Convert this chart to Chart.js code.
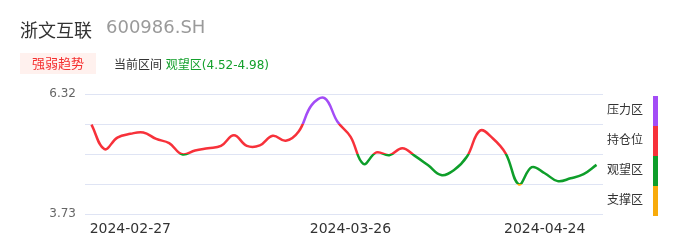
<!DOCTYPE html>
<html>
<head>
<meta charset="utf-8">
<script src="https://cdn.jsdelivr.net/npm/chart.js@4"></script>
<style>
  body { margin: 0; background: #fff; font-family: "DejaVu Sans", "Noto Sans CJK SC", sans-serif; }
  #wrap { position: relative; width: 686px; height: 247px; overflow: hidden; }
  #chart { position: absolute; left: 0; top: 0; }
  .name { position: absolute; left: 20px; top: 16px; font-size: 18px; color: #333; }
  .code { position: absolute; left: 106px; top: 16px; font-size: 18px; color: #9a9a9a; }
  .badge { position: absolute; left: 20px; top: 53px; width: 76px; height: 21px; line-height: 21px;
           text-align: center; background: #fff1ee; color: #f52f2f; font-size: 13px; }
  .range { position: absolute; left: 114px; top: 55px; font-size: 12px; color: #333; }
  .range span { color: #14a02c; }
</style>
</head>
<body>
<div id="wrap">
  <canvas id="chart" width="686" height="247"></canvas>
  <div class="name">浙文互联</div>
  <div class="code">600986.SH</div>
  <div class="badge">强弱趋势</div>
  <div class="range">当前区间 <span>观望区(4.52-4.98)</span></div>
</div>
<script>
// dati
const dates = [
  '2024-02-22','2024-02-23','2024-02-26','2024-02-27','2024-02-28','2024-02-29','2024-03-04','2024-03-05',
  '2024-03-06','2024-03-07','2024-03-08','2024-03-11','2024-03-12','2024-03-14','2024-03-15','2024-03-18',
  '2024-03-19','2024-03-20','2024-03-22','2024-03-25','2024-03-26','2024-03-27','2024-03-28','2024-04-01',
  '2024-04-02','2024-04-03','2024-04-08','2024-04-10','2024-04-11','2024-04-12','2024-04-15','2024-04-17',
  '2024-04-18','2024-04-19','2024-04-23','2024-04-24','2024-04-25','2024-04-26','2024-04-29','2024-04-30'
];
const prices = [
  5.66, 5.13, 5.38, 5.46, 5.49, 5.35, 5.26, 5.02, 5.10, 5.15,
  5.20, 5.43, 5.20, 5.21, 5.42, 5.31, 5.51, 6.08, 6.23, 5.72,
  5.40, 4.81, 5.06, 5.00, 5.15, 4.98, 4.78, 4.57, 4.68, 4.97,
  5.53, 5.36, 5.03, 4.37, 4.74, 4.61, 4.44, 4.50, 4.59, 4.79
];
const xTickLabels = ['2024-02-27', '2024-03-26', '2024-04-24'];
const yTicks = [3.73, 4.3775, 5.025, 5.6725, 6.32];
// zone: dall'alto verso il basso
const zoneNames = ['压力区', '持仓位', '观望区', '支撑区'];
const zoneColors = ['#a34cf6', '#f7313a', '#0e9e2a', '#f8ab0b'];
const zoneBounds = [6.32, 5.6725, 5.025, 4.3775, 3.73];

Chart.defaults.font.family = '"DejaVu Sans", "Noto Sans CJK SC", sans-serif';

// gradiente a fasce secondo la scala y
function zoneGradient(context) {
  const chart = context.chart;
  const area = chart.chartArea;
  if (!area) return zoneColors[1];
  const y = chart.scales.y;
  const g = chart.ctx.createLinearGradient(0, area.top, 0, area.bottom);
  const off = v => Math.min(1, Math.max(0, (y.getPixelForValue(v) - area.top) / (area.bottom - area.top)));
  for (let i = 0; i < zoneColors.length; i++) {
    g.addColorStop(off(zoneBounds[i]), zoneColors[i]);
    g.addColorStop(off(zoneBounds[i + 1]), zoneColors[i]);
  }
  return g;
}

// legenda laterale
const zoneLegend = {
  id: 'zoneLegend',
  afterDraw(chart) {
    const ctx = chart.ctx;
    const y = chart.scales.y;
    ctx.save();
    ctx.font = '12px "DejaVu Sans", "Noto Sans CJK SC", sans-serif';
    ctx.textBaseline = 'middle';
    ctx.textAlign = 'left';
    for (let i = 0; i < zoneNames.length; i++) {
      const top = y.getPixelForValue(zoneBounds[i]) + 2;
      const bot = y.getPixelForValue(zoneBounds[i + 1]) + 2;
      ctx.fillStyle = zoneColors[i];
      ctx.fillRect(653, top, 5, bot - top);
      ctx.fillStyle = '#333';
      ctx.fillText(zoneNames[i], 607, (top + bot) / 2);
    }
    ctx.restore();
  }
};

new Chart(document.getElementById('chart'), {
  type: 'line',
  data: {
    labels: dates,
    datasets: [{
      data: prices,
      borderColor: zoneGradient,
      borderWidth: 2.5,
      tension: 0.4,
      pointRadius: 0,
      fill: false
    }]
  },
  options: {
    responsive: false,
    animation: false,
    layout: { padding: { top: 94, right: 83, bottom: 0, left: 0 } },
    plugins: { legend: { display: false }, tooltip: { enabled: false } },
    scales: {
      x: {
        offset: true,
        grid: { display: false, drawTicks: false },
        border: { display: false },
        afterFit: s => { s.height = 33; },
        ticks: {
          autoSkip: false,
          maxRotation: 0,
          padding: 7,
          color: '#333',
          font: { size: 14 },
          callback: function (v) {
            const l = this.getLabelForValue(v);
            return xTickLabels.includes(l) ? l : '';
          }
        }
      },
      y: {
        min: 3.73,
        max: 6.32,
        afterBuildTicks: s => { s.ticks = yTicks.map(v => ({ value: v })); },
        afterFit: s => { s.width = 85; },
        grid: { color: '#dfe4f4', drawTicks: false },
        border: { display: false },
        ticks: {
          padding: 9,
          color: '#666',
          font: { size: 12 },
          callback: v => (v === 3.73 || v === 6.32) ? v.toFixed(2) : ''
        }
      }
    }
  },
  plugins: [zoneLegend]
});
</script>
</body>
</html>
